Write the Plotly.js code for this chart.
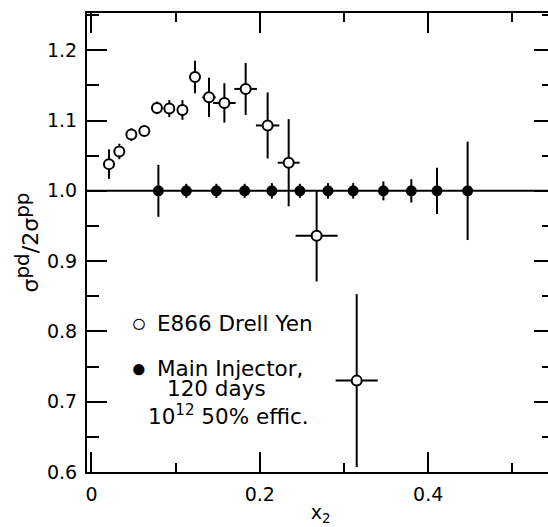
<!DOCTYPE html>
<html>
<head>
<meta charset="utf-8">
<script src="https://cdn.plot.ly/plotly-3.0.1.min.js"></script>
<style>
html,body{margin:0;padding:0;overflow:hidden;background:#fff;}
#chart{width:555px;height:527px;}
</style>
</head>
<body>
<div id="chart"></div>
<script>
// E866 Drell-Yan measurement (open circles)
const e866X  = [0.0208,0.0331,0.0474,0.0628,0.0778,0.0925,0.1081,0.1230,0.1396,0.1579,0.1832,0.2093,0.2343,0.2675,0.3151];
const e866Y  = [1.038,1.056,1.080,1.085,1.118,1.117,1.115,1.162,1.133,1.125,1.145,1.093,1.040,0.936,0.730];
const e866Ex = [0.007,0.006,0.006,0.006,0.006,0.006,0.006,0.006,0.008,0.0134,0.0135,0.0139,0.013,0.025,0.025];
const e866Ey = [0.021,0.011,0.009,0.007,0.009,0.012,0.014,0.023,0.028,0.028,0.037,0.047,0.062,0.065,0.123];

// Main Injector projection (filled circles)
const miX  = [0.0795,0.1127,0.1484,0.1820,0.2143,0.2476,0.2810,0.3109,0.3468,0.3800,0.4105,0.4469];
const miY  = [1,1,1,1,1,1,1,1,1,1,1,1];
const miEy = [0.037,0.010,0.010,0.010,0.011,0.010,0.011,0.011,0.0135,0.0166,0.033,0.070];

// Text
const legendE866 = "E866 Drell Yen";
const legendMI   = ["Main Injector,", "120 days", "10<sup>12</sup> 50% effic."];
const xTitle = "x<sub>2</sub>";
const yTitle = "σ<sup><span style=\"font-size:20px\">pd</span></sup>/2σ<sup><span style=\"font-size:20px\">pp</span></sup>";

const FONT = "DejaVu Sans";

const traces = [
  {
    x: miX, y: miY, type: "scatter", mode: "markers", name: "Main Injector",
    marker: {symbol: "circle", size: 11, color: "#000"},
    error_y: {type: "data", array: miEy, visible: true, color: "#000", thickness: 2, width: 0},
    showlegend: false, cliponaxis: true
  },
  {
    x: e866X, y: e866Y, type: "scatter", mode: "markers", name: "E866 Drell Yen",
    marker: {symbol: "circle", size: 10, color: "#fff", line: {color: "#000", width: 2}},
    error_y: {type: "data", array: e866Ey, visible: true, color: "#000", thickness: 2, width: 0},
    error_x: {type: "data", array: e866Ex, visible: true, color: "#000", thickness: 2, width: 0},
    showlegend: false, cliponaxis: true
  }
];

const axisCommon = {
  ticks: "inside", ticklen: 20, tickwidth: 2, tickcolor: "#000",
  showline: true, linewidth: 2, linecolor: "#000", mirror: "allticks",
  showgrid: false, zeroline: false,
  tickfont: {family: FONT, size: 19, color: "#000"}
};

const layout = {
  width: 555, height: 527,
  margin: {l: 87, r: 1, t: 13, b: 55},
  paper_bgcolor: "#fff", plot_bgcolor: "#fff",
  showlegend: false,
  font: {family: FONT, color: "#000"},
  xaxis: Object.assign({}, axisCommon, {
    range: [-0.0053, 0.5495], tick0: 0, dtick: 0.2,
    minor: {dtick: 0.1, ticks: "inside", ticklen: 9, tickwidth: 2, tickcolor: "#000", showgrid: false},
    ticklabelstandoff: 4,
    title: {text: xTitle, font: {family: FONT, size: 19, color: "#000"}, standoff: 2}
  }),
  yaxis: Object.assign({}, axisCommon, {
    range: [0.6, 1.253], tick0: 0.6, dtick: 0.1, tickformat: ".1f",
    minor: {dtick: 0.05, ticks: "inside", ticklen: 12, tickwidth: 2, tickcolor: "#000", showgrid: false},
    ticklabelstandoff: 4,
    title: {text: yTitle, font: {family: FONT, size: 22, color: "#000"}, standoff: 2}
  }),
  shapes: [
    {type: "line", xref: "paper", x0: 0, x1: 1, yref: "y", y0: 1, y1: 1,
     line: {color: "#000", width: 2}, layer: "below"}
  ],
  annotations: [
    {xref: "x", yref: "y", x: 0.0561, y: 0.8118, text: "○", showarrow: false,
     xanchor: "center", yanchor: "middle", font: {family: "Liberation Sans", size: 26, color: "#000"}},
    {xref: "x", yref: "y", x: 0.0751, y: 0.8118, text: legendE866, showarrow: false,
     xanchor: "left", yanchor: "middle", font: {family: FONT, size: 21.5, color: "#000"}},
    {xref: "x", yref: "y", x: 0.0561, y: 0.7479, text: "●", showarrow: false,
     xanchor: "center", yanchor: "middle", font: {family: "Liberation Sans", size: 26, color: "#000"}},
    {xref: "x", yref: "y", x: 0.0751, y: 0.7471, text: legendMI[0], showarrow: false,
     xanchor: "left", yanchor: "middle", font: {family: FONT, size: 21.5, color: "#000"}},
    {xref: "x", yref: "y", x: 0.1487, y: 0.7182, text: legendMI[1], showarrow: false,
     xanchor: "center", yanchor: "middle", font: {family: FONT, size: 21.5, color: "#000"}},
    {xref: "x", yref: "y", x: 0.1625, y: 0.6809, text: legendMI[2], showarrow: false,
     xanchor: "center", yanchor: "middle", font: {family: FONT, size: 21.5, color: "#000"}}
  ]
};

Plotly.newPlot("chart", traces, layout, {staticPlot: true, displayModeBar: false});
</script>
</body>
</html>
